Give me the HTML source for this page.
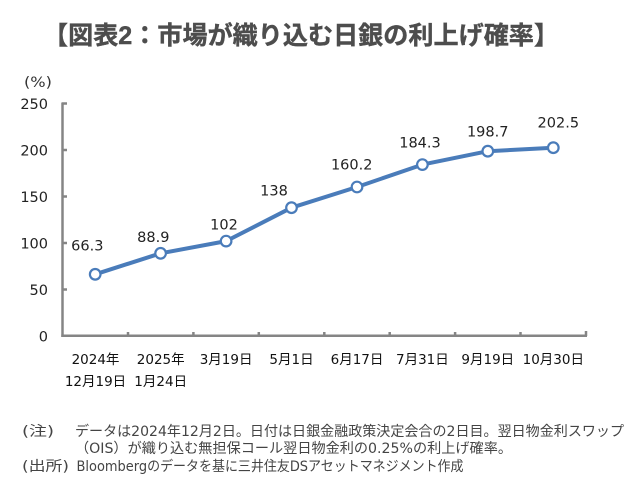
<!DOCTYPE html>
<html>
<head>
<meta charset="utf-8">
<style>
html,body{margin:0;padding:0;background:#fff;}
svg{display:block;}
.num{font-family:"DejaVu Sans","Liberation Sans",sans-serif;}
.jp{font-family:"DejaVu Sans","Noto Sans CJK JP",sans-serif;}
</style>
</head>
<body>
<svg width="640" height="501" viewBox="0 0 640 501" xmlns="http://www.w3.org/2000/svg">
  <rect x="0" y="0" width="640" height="501" fill="#fff"/>
  <!-- Title -->
  <text x="43" y="44" font-family="'Liberation Sans','Noto Sans CJK JP',sans-serif" font-weight="bold" font-size="25" fill="#4d4d4d" stroke="#4d4d4d" stroke-width="0.4" textLength="516" lengthAdjust="spacingAndGlyphs">【図表2：市場が織り込む日銀の利上げ確率】</text>

  <!-- unit -->
  <text x="24" y="87" class="jp" font-size="14" fill="#333" textLength="28" lengthAdjust="spacingAndGlyphs">(%)</text>

  <!-- Y tick labels -->
  <g class="num" font-size="14.5" fill="#222" text-anchor="end">
    <text x="48" y="341.3">0</text>
    <text x="48" y="294.8">50</text>
    <text x="48" y="248.3">100</text>
    <text x="48" y="201.8">150</text>
    <text x="48" y="155.3">200</text>
    <text x="48" y="108.8">250</text>
  </g>

  <!-- Axes -->
  <g stroke="#858585" stroke-width="2.5" fill="none">
    <line x1="62.5" y1="102.5" x2="62.5" y2="337"/>
    <line x1="61.3" y1="335.8" x2="587" y2="335.8"/>
    <line x1="62" y1="103.5" x2="67" y2="103.5"/>
    <line x1="62" y1="150" x2="67" y2="150"/>
    <line x1="62" y1="196.5" x2="67" y2="196.5"/>
    <line x1="62" y1="243" x2="67" y2="243"/>
    <line x1="62" y1="289.5" x2="67" y2="289.5"/>
    <line x1="128" y1="336" x2="128" y2="332"/>
    <line x1="193.4" y1="336" x2="193.4" y2="332"/>
    <line x1="258.8" y1="336" x2="258.8" y2="332"/>
    <line x1="324.3" y1="336" x2="324.3" y2="332"/>
    <line x1="389.7" y1="336" x2="389.7" y2="332"/>
    <line x1="455.1" y1="336" x2="455.1" y2="332"/>
    <line x1="520.5" y1="336" x2="520.5" y2="332"/>
    <line x1="586" y1="336" x2="586" y2="331"/>
  </g>

  <!-- Series -->
  <polyline fill="none" stroke="#4a7cba" stroke-width="4" stroke-linejoin="round"
    points="95.2,274.3 160.6,253.3 226.1,241.1 291.5,207.7 357,187 422.4,164.6 487.8,151.2 553.3,147.7"/>
  <g fill="#fff" stroke="#4a7cba" stroke-width="2.2">
    <circle cx="95.2" cy="274.3" r="5.3"/>
    <circle cx="160.6" cy="253.3" r="5.3"/>
    <circle cx="226.1" cy="241.1" r="5.3"/>
    <circle cx="291.5" cy="207.7" r="5.3"/>
    <circle cx="357" cy="187" r="5.3"/>
    <circle cx="422.4" cy="164.6" r="5.3"/>
    <circle cx="487.8" cy="151.2" r="5.3"/>
    <circle cx="553.3" cy="147.7" r="5.3"/>
  </g>

  <!-- Data labels -->
  <g class="num" font-size="14.5" fill="#222" text-anchor="middle">
    <text x="87.3" y="250.3">66.3</text>
    <text x="153.3" y="242">88.9</text>
    <text x="224" y="229.3">102</text>
    <text x="274" y="195.3">138</text>
    <text x="351.7" y="169.3">160.2</text>
    <text x="420" y="147.6">184.3</text>
    <text x="487.7" y="136.3">198.7</text>
    <text x="558.3" y="127.6">202.5</text>
  </g>

  <!-- X labels -->
  <g class="jp" font-size="13.5" fill="#111" text-anchor="middle">
    <text x="95.5" y="364">2024年</text>
    <text x="95.5" y="386">12月19日</text>
    <text x="160.7" y="364">2025年</text>
    <text x="160.7" y="386">1月24日</text>
    <text x="226.1" y="364">3月19日</text>
    <text x="291.5" y="364">5月1日</text>
    <text x="357" y="364">6月17日</text>
    <text x="422.4" y="364">7月31日</text>
    <text x="487.8" y="364">9月19日</text>
    <text x="553.3" y="364">10月30日</text>
  </g>

  <!-- Notes -->
  <g font-family="'DejaVu Sans','Noto Sans CJK JP',sans-serif" font-size="14" fill="#444">
    <text x="22" y="436" textLength="32" lengthAdjust="spacingAndGlyphs">(注)</text>
    <text x="75" y="436" textLength="549" lengthAdjust="spacingAndGlyphs">データは2024年12月2日。日付は日銀金融政策決定会合の2日目。翌日物金利スワップ</text>
    <text x="75" y="453" textLength="437" lengthAdjust="spacingAndGlyphs">（OIS）が織り込む無担保コール翌日物金利の0.25%の利上げ確率。</text>
    <text x="22" y="471" textLength="47" lengthAdjust="spacingAndGlyphs">(出所)</text>
    <text x="76.5" y="471" textLength="387" lengthAdjust="spacingAndGlyphs">Bloombergのデータを基に三井住友DSアセットマネジメント作成</text>
  </g>
</svg>
</body>
</html>
